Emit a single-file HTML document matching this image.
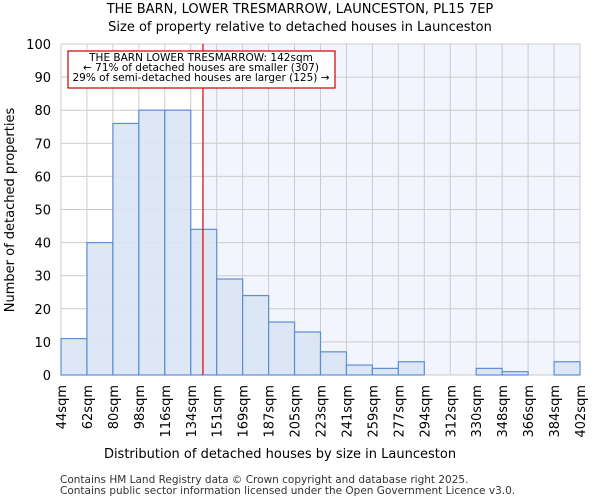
<!DOCTYPE html>
<html><head><meta charset="utf-8"><style>
body{margin:0;background:#fff;font-family:"DejaVu Sans","Liberation Sans",sans-serif}
svg text{font-family:"DejaVu Sans","Liberation Sans",sans-serif}
</style></head><body>
<svg id="chart" width="600" height="500" xmlns="http://www.w3.org/2000/svg">
<text x="300" y="13" font-size="13" text-anchor="middle">THE BARN, LOWER TRESMARROW, LAUNCESTON, PL15 7EP</text>
<text x="300" y="31" font-size="13" text-anchor="middle">Size of property relative to detached houses in Launceston</text>
<g id="plot"></g>
<text x="280" y="458" font-size="13" text-anchor="middle">Distribution of detached houses by size in Launceston</text>
<text transform="translate(14,210) rotate(-90)" font-size="13" text-anchor="middle">Number of detached properties</text>
<text x="60" y="483" font-size="10.5" fill="#333">Contains HM Land Registry data © Crown copyright and database right 2025.</text>
<text x="60" y="494" font-size="10.5" fill="#333">Contains public sector information licensed under the Open Government Licence v3.0.</text>
</svg>
<script>
const binLabels=["44sqm","62sqm","80sqm","98sqm","116sqm","134sqm","151sqm","169sqm","187sqm","205sqm","223sqm","241sqm","259sqm","277sqm","294sqm","312sqm","330sqm","348sqm","366sqm","384sqm","402sqm"];
const counts=[11,40,76,80,80,44,29,24,16,13,7,3,2,4,0,0,2,1,0,4];
const yTicks=[0,10,20,30,40,50,60,70,80,90,100];
const markerBin=5.47;
const NS="http://www.w3.org/2000/svg";
const L=61,R=580,T=44,B=375,yMax=100;
const bw=(R-L)/counts.length;
const xs=i=>L+i*bw;
const ys=v=>B-(v/yMax)*(B-T);
const g=document.getElementById('plot');
function mk(tag,attrs){const e=document.createElementNS(NS,tag);for(const k in attrs)e.setAttribute(k,attrs[k]);g.appendChild(e);return e;}
const mx=xs(markerBin);
let e=mk('rect',{x:mx,y:T,width:R-mx,height:B-T,fill:'#f2f5fd'});


for(let i=0;i<=counts.length;i++){e=mk('line',{x1:xs(i),x2:xs(i),y1:T,y2:B,stroke:'#ccc','stroke-width':1});

}
yTicks.forEach(t=>{e=mk('line',{x1:L,x2:R,y1:ys(t),y2:ys(t),stroke:'#ccc','stroke-width':1});


const tx=mk('text',{x:L-10,y:ys(t)+5,'font-size':13,'text-anchor':'end'});tx.textContent=t;

});
counts.forEach((c,i)=>{if(c<=0)return;const b=mk('rect',{x:xs(i),y:ys(c),width:bw,height:B-ys(c),fill:'#dae4f4',stroke:'#5b8fd6','stroke-width':1.2,'fill-opacity':0.9});

});
binLabels.forEach((l,i)=>{const tx=mk('text',{transform:`translate(${xs(i)+5},385) rotate(-90)`,'font-size':13,'text-anchor':'end'});tx.textContent=l;

});
e=mk('line',{x1:mx,x2:mx,y1:T,y2:B,stroke:'#d00','stroke-width':1.2});


e=mk('rect',{x:68,y:51,width:267,height:37,fill:'#fff',stroke:'#c00','stroke-width':1.2});


["THE BARN LOWER TRESMARROW: 142sqm","← 71% of detached houses are smaller (307)","29% of semi-detached houses are larger (125) →"].forEach((s,k)=>{const tx=mk('text',{x:201,y:61+k*10,'font-size':10.5,'text-anchor':'middle'});tx.textContent=s;

});
</script>
</body></html>
